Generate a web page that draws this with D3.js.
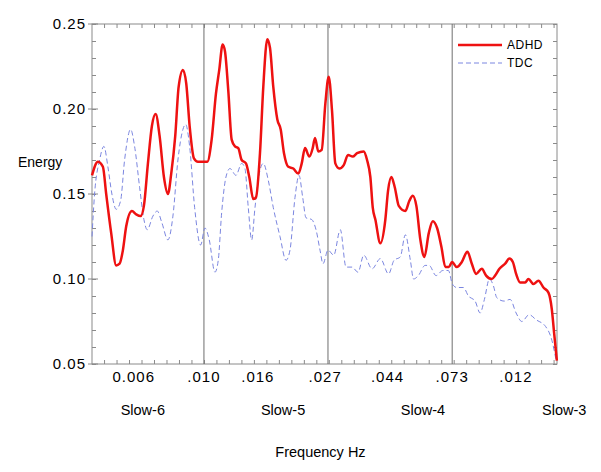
<!DOCTYPE html>
<html>
<head>
<meta charset="utf-8">
<title>Energy by frequency</title>
<script src="https://cdn.jsdelivr.net/npm/d3@7"></script>
<style>
body { margin: 0; background: #fff; }
text { font-family: "Liberation Sans", Arial, sans-serif; fill: #000; }
</style>
</head>
<body>
<script>
//Data: frequency in Hz, energy
var adhdFreq = [0.00408,0.004277,0.004452,0.004571,0.004758,0.004952,0.005089,0.005226,0.005366,0.005616,
    0.005813,0.006022,0.006183,0.006385,0.006592,0.006791,0.007012,0.007258,0.007494,0.007695,
    0.007945,0.008165,0.008451,0.008678,0.008917,0.00923,0.00953,0.010268,0.010636,0.011009,
    0.011304,0.011616,0.011833,0.01215,0.012486,0.01282,0.013163,0.013527,0.014,0.014376,
    0.014844,0.015169,0.015663,0.016084,0.016607,0.01697,0.017425,0.017992,0.01849,0.018984,
    0.01965,0.020453,0.021289,0.021878,0.022464,0.023252,0.023893,0.024337,0.024991,0.025679,
    0.026432,0.027161,0.027888,0.028636,0.029568,0.03063,0.031703,0.032921,0.034077,0.035954,
    0.03692,0.037908,0.038646,0.039458,0.041072,0.042748,0.043686,0.044855,0.046092,0.047595,
    0.050181,0.051813,0.053246,0.054802,0.056589,0.058429,0.060528,0.062496,0.06469,0.066954,
    0.069138,0.071044,0.072952,0.075748,0.078847,0.082468,0.085423,0.088422,0.092556,0.095795,
    0.10028,0.10296,0.10657,0.11156,0.11546,0.11866,0.12182,0.1258,0.13094,0.13445,
    0.13994,0.14567,0.15163,0.15782,0.16218,0.16519,0.1688];
var adhdEnergy = [0.161,0.169,0.166,0.150,0.127,0.108,0.109,0.117,0.131,0.140,
    0.138,0.137,0.143,0.168,0.190,0.197,0.184,0.160,0.150,0.162,
    0.184,0.213,0.223,0.215,0.190,0.171,0.169,0.169,0.182,0.209,
    0.223,0.238,0.234,0.211,0.182,0.178,0.177,0.170,0.168,0.160,
    0.147,0.148,0.174,0.213,0.241,0.236,0.213,0.194,0.188,0.174,
    0.166,0.165,0.162,0.168,0.177,0.172,0.177,0.183,0.175,0.176,
    0.203,0.219,0.199,0.168,0.165,0.167,0.173,0.172,0.174,0.175,
    0.170,0.160,0.142,0.135,0.121,0.135,0.152,0.160,0.154,0.143,
    0.140,0.146,0.149,0.143,0.123,0.113,0.127,0.134,0.130,0.119,
    0.107,0.107,0.110,0.107,0.110,0.116,0.109,0.103,0.106,0.102,
    0.100,0.102,0.106,0.109,0.112,0.110,0.103,0.098,0.098,0.100,
    0.097,0.099,0.095,0.092,0.082,0.068,0.052];

var tdcFreq = [0.00408,0.004165,0.004336,0.004488,0.004634,0.004785,0.004952,0.00513,0.005297,0.005558,
    0.005739,0.005974,0.006183,0.006349,0.006645,0.006878,0.007143,0.007494,0.0078,0.008119,
    0.008451,0.008636,0.008917,0.009282,0.009739,0.01008,0.010434,0.010921,0.011214,0.011524,
    0.011928,0.012316,0.012923,0.013527,0.013889,0.014262,0.014655,0.015049,0.015575,0.016084,
    0.016741,0.017425,0.018386,0.019292,0.019919,0.020735,0.021409,0.022054,0.022644,0.023702,
    0.024533,0.025332,0.025948,0.027009,0.028272,0.029805,0.0312,0.032737,0.034351,0.035954,
    0.038429,0.041072,0.043861,0.045834,0.04817,0.050181,0.052229,0.053588,0.05569,0.058762,
    0.060674,0.064174,0.067714,0.070825,0.073127,0.075748,0.079871,0.083139,0.087716,0.091303,
    0.0945,0.098366,0.10156,0.10437,0.11066,0.11611,0.12182,0.12753,0.13521,0.14302,
    0.15433,0.16218,0.16786];
var tdcEnergy = [0.125,0.150,0.170,0.178,0.166,0.150,0.141,0.146,0.170,0.188,
    0.178,0.154,0.135,0.129,0.137,0.140,0.133,0.123,0.137,0.170,
    0.188,0.191,0.178,0.142,0.120,0.130,0.123,0.104,0.111,0.139,
    0.160,0.165,0.161,0.168,0.165,0.142,0.123,0.142,0.162,0.168,
    0.158,0.142,0.125,0.111,0.117,0.148,0.161,0.148,0.136,0.135,
    0.129,0.117,0.109,0.117,0.114,0.129,0.107,0.107,0.104,0.114,
    0.106,0.112,0.103,0.111,0.113,0.126,0.111,0.100,0.102,0.108,
    0.108,0.102,0.105,0.105,0.097,0.095,0.095,0.090,0.087,0.080,
    0.088,0.100,0.096,0.089,0.087,0.088,0.080,0.075,0.079,0.076,
    0.072,0.064,0.052];

//x tick label positions (Hz) and labels as printed
var tickFreq = [0.0057,0.0100,0.0154,0.0264,0.0435,0.073,0.1216];
var tickLabels = ["0.006",".010",".016",".027",".044",".073",".012"];
var bandEdges = [0.010,0.027,0.073];
var bandFreq = [0.00613,0.01884,0.0578,0.179];
var bandNames = ["Slow-6","Slow-5","Slow-4","Slow-3"];
var yTicks = [0.05,0.10,0.15,0.20,0.25];
var yLabels = ["0.05","0.10","0.15","0.20","0.25"];
var seriesNames = ["ADHD","TDC"];

var svgwidth = 601,
    svgheight = 472,
    margin = {top: 24, right: 44, bottom: 108, left: 92},
    width = svgwidth - margin.left - margin.right,
    height = svgheight - margin.top - margin.bottom;

var svg = d3.select("body").append("svg")
    .attr("width", svgwidth)
    .attr("height", svgheight);

var g = svg.append("g")
    .attr("transform", "translate(" + margin.left + "," + margin.top + ")");

//log frequency axis, linear energy axis
var x = d3.scaleLog().domain([0.00408, 0.169]).range([0, width]),
    y = d3.scaleLinear().domain([0.05, 0.25]).range([height, 0]);

//minor x ticks every 0.1 in ln(f), starting from 0.01
var xMinor = d3.range(-9, 29).map(function(k) { return 0.01 * Math.exp(k * 0.1); })
    .filter(function(f) { return f >= 0.00408 && f <= 0.169; });
var yMinor = d3.range(0.05, 0.2501, 0.01);

var gray = "#8a8a8a";

//tick marks, inside the frame on all four sides
g.append("g").call(d3.axisBottom(x).tickValues(xMinor).tickSize(-4).tickFormat(""))
    .attr("transform", "translate(0," + height + ")");
g.append("g").call(d3.axisTop(x).tickValues(xMinor).tickSize(-4).tickFormat(""));
g.append("g").call(d3.axisLeft(y).tickValues(yMinor).tickSize(-4).tickFormat(""));
g.append("g").call(d3.axisRight(y).tickValues(yMinor).tickSize(-4).tickFormat(""))
    .attr("transform", "translate(" + width + ",0)");
g.selectAll(".domain").remove();
g.selectAll(".tick line").attr("stroke", gray);

//major y ticks poke out a little
g.selectAll(".ymaj")
    .data(yTicks)
    .enter().append("line")
      .attr("class", "ymaj")
      .attr("x1", -4).attr("x2", 6)
      .attr("y1", function(d) { return y(d); })
      .attr("y2", function(d) { return y(d); })
      .attr("stroke", gray);

//frame
g.append("rect")
    .attr("width", width)
    .attr("height", height)
    .attr("fill", "none")
    .attr("stroke", gray);

//band edges
g.selectAll(".band")
    .data(bandEdges)
    .enter().append("line")
      .attr("class", "band")
      .attr("x1", function(d) { return x(d); })
      .attr("x2", function(d) { return x(d); })
      .attr("y1", 0).attr("y2", height)
      .attr("stroke", "#6e6e6e");

//curves
var line = d3.line()
    .x(function(d) { return x(d[0]); })
    .y(function(d) { return y(d[1]); })
    .curve(d3.curveMonotoneX);

g.append("path")
    .datum(d3.zip(tdcFreq, tdcEnergy))
    .attr("fill", "none")
    .attr("stroke", "#7b86e0")
    .attr("stroke-width", 1)
    .attr("stroke-dasharray", "5,3")
    .attr("d", line);

g.append("path")
    .datum(d3.zip(adhdFreq, adhdEnergy))
    .attr("fill", "none")
    .attr("stroke", "#ee1111")
    .attr("stroke-width", 2.5)
    .attr("d", line);

//y tick labels
svg.selectAll(".ylab")
    .data(yTicks)
    .enter().append("text")
      .attr("class", "ylab")
      .attr("x", margin.left - 6)
      .attr("y", function(d) { return margin.top + y(d); })
      .attr("dy", "0.35em")
      .attr("text-anchor", "end")
      .style("font-size", "15px")
      .style("letter-spacing", "1px")
      .text(function(d, i) { return yLabels[i]; });

svg.append("text")
    .attr("x", 18)
    .attr("y", 167)
    .style("font-size", "14px")
    .text("Energy");

//x tick labels
svg.selectAll(".xlab")
    .data(tickFreq)
    .enter().append("text")
      .attr("class", "xlab")
      .attr("x", function(d) { return margin.left + x(d); })
      .attr("y", 382)
      .attr("text-anchor", "middle")
      .style("font-size", "15px")
      .style("letter-spacing", "1px")
      .text(function(d, i) { return tickLabels[i]; });

//band names
svg.selectAll(".bandlab")
    .data(bandFreq)
    .enter().append("text")
      .attr("class", "bandlab")
      .attr("x", function(d) { return margin.left + x(d); })
      .attr("y", 415)
      .attr("text-anchor", "middle")
      .style("font-size", "14.5px")
      .text(function(d, i) { return bandNames[i]; });

svg.append("text")
    .attr("x", margin.left + width / 2 - 4)
    .attr("y", 457)
    .attr("text-anchor", "middle")
    .style("font-size", "14.5px")
    .text("Frequency Hz");

//legend
var legend = svg.append("g")
    .attr("transform", "translate(458,45)");

legend.selectAll("line")
    .data(seriesNames)
    .enter().append("line")
      .attr("x1", 0).attr("x2", 44)
      .attr("y1", function(d, i) { return i * 18; })
      .attr("y2", function(d, i) { return i * 18; })
      .attr("stroke", function(d, i) { return i == 0 ? "#ee1111" : "#7b86e0"; })
      .attr("stroke-width", function(d, i) { return i == 0 ? 2.5 : 1; })
      .attr("stroke-dasharray", function(d, i) { return i == 0 ? null : "5,3"; });

legend.selectAll("text")
    .data(seriesNames)
    .enter().append("text")
      .attr("x", 49)
      .attr("y", function(d, i) { return i * 18; })
      .attr("dy", "0.35em")
      .style("font-size", "12px")
      .style("letter-spacing", "0.5px")
      .text(function(d) { return d; });
</script>
</body>
</html>
